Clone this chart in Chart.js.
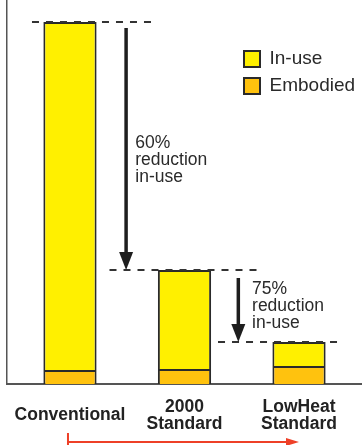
<!DOCTYPE html>
<html><head><meta charset="utf-8">
<script src="https://cdn.jsdelivr.net/npm/chart.js@4"></script>
<style>html,body{margin:0;padding:0;background:#fff}#wrap{width:362px;height:445px;position:relative}</style>
</head><body><div id="wrap"><canvas id="c"></canvas></div>
<script>
// ---- data ----
const categories = [['Conventional'], ['2000', 'Standard'], ['LowHeat', 'Standard']];
const seriesNames = ['Embodied', 'In-use'];
const embodied = [14, 15, 18];
const inUse = [348, 99, 24];
const reductionLabels = [['60%', 'reduction', 'in-use'], ['75%', 'reduction', 'in-use']];
const yMax = 384;

const colorInUse = '#FFF000';
const colorEmbodied = '#FFC20E';
const edge = '#2a2a2a';
const textFont = '"Liberation Sans", Arial, Helvetica, sans-serif';

const annotations = {
  id: 'annotations',
  afterDatasetsDraw(chart) {
    const {ctx, scales: {x, y}} = chart;
    const tops = inUse.map((v, i) => y.getPixelForValue(v + embodied[i]));
    const cx = categories.map((c, i) => x.getPixelForValue(i));
    ctx.save();
    // dashed reference lines
    ctx.strokeStyle = '#333';
    ctx.lineWidth = 2;
    ctx.setLineDash([7, 7]);
    const spans = [[-38, 82], [-75, 72], [-81, 38]];
    spans.forEach((s, i) => {
      ctx.beginPath();
      ctx.moveTo(cx[i] + s[0], tops[i]);
      ctx.lineTo(cx[i] + s[1], tops[i]);
      ctx.stroke();
    });
    ctx.setLineDash([]);
    // down arrows
    const arrows = [{xv: 0.49, from: 28, to: tops[1]}, {xv: 1.47, from: 278, to: tops[2]}];
    ctx.fillStyle = '#1e1e1e';
    ctx.strokeStyle = '#1e1e1e';
    arrows.forEach(a => {
      const ax = x.getPixelForValue(a.xv);
      ctx.lineWidth = 3.5;
      ctx.beginPath();
      ctx.moveTo(ax, a.from);
      ctx.lineTo(ax, a.to - 16);
      ctx.stroke();
      ctx.beginPath();
      ctx.moveTo(ax - 7, a.to - 18);
      ctx.lineTo(ax + 7, a.to - 18);
      ctx.lineTo(ax, a.to);
      ctx.closePath();
      ctx.fill();
    });
    // reduction text
    ctx.fillStyle = '#2a2a2a';
    ctx.font = '17.5px ' + textFont;
    ctx.textBaseline = 'middle';
    ctx.textAlign = 'left';
    const textPos = [{x: x.getPixelForValue(0.57), y: 143}, {x: x.getPixelForValue(1.59), y: 289}];
    reductionLabels.forEach((lines, i) => {
      lines.forEach((t, j) => ctx.fillText(t, textPos[i].x, textPos[i].y + j * 17));
    });
    ctx.restore();
  },
  afterDraw(chart) {
    // red progression arrow under the axis labels
    const {ctx, scales: {x}} = chart;
    const x0 = x.getPixelForValue(0) - 2;
    const x1 = x.getPixelForValue(2);
    const yy = 442;
    ctx.save();
    ctx.strokeStyle = '#EE4027';
    ctx.fillStyle = '#EE4027';
    ctx.lineWidth = 2;
    ctx.beginPath();
    ctx.moveTo(x0, 433);
    ctx.lineTo(x0, 445);
    ctx.moveTo(x0, yy);
    ctx.lineTo(x1 - 12, yy);
    ctx.stroke();
    ctx.beginPath();
    ctx.moveTo(x1 - 13, yy - 4);
    ctx.lineTo(x1, yy);
    ctx.lineTo(x1 - 13, yy + 4);
    ctx.closePath();
    ctx.fill();
    ctx.restore();
  }
};

const placeLegend = {
  id: 'placeLegend',
  afterLayout(chart) {
    const lg = chart.legend;
    if (!lg) return;
    const w = lg.width, h = lg.height;
    lg.left = 236; lg.top = 41.5;
    lg.right = lg.left + w; lg.bottom = lg.top + h;
  }
};

new Chart(document.getElementById('c'), {
  type: 'bar',
  data: {
    datasets: [
      {label: seriesNames[0], data: embodied.map((v, i) => ({x: i, y: v})),
       backgroundColor: colorEmbodied, borderColor: edge, borderWidth: 2},
      {label: seriesNames[1], data: inUse.map((v, i) => ({x: i, y: v})),
       backgroundColor: colorInUse, borderColor: edge, borderWidth: 2}
    ]
  },
  options: {
    responsive: true,
    maintainAspectRatio: false,
    animation: false,
    categoryPercentage: 1,
    barPercentage: 0.465,
    layout: {autoPadding: false, padding: {left: 7, right: 0, top: 0, bottom: -19}},
    scales: {
      x: {
        type: 'linear', stacked: true, min: -0.55, max: 2.55, offset: false,
        afterBuildTicks: (s) => { s.ticks = categories.map((c, i) => ({value: i})); },
        afterFit: (s) => { s.paddingLeft = 0; s.paddingRight = 0; },
        grid: {display: false, drawTicks: false, offset: false},
        border: {display: true, color: '#555', width: 2},
        ticks: {
          callback: (v) => categories[v] || '',
          color: '#222', padding: 23, crossAlign: 'center', maxRotation: 0, autoSkip: false,
          font: {family: textFont, weight: 'bold', size: 17.5, lineHeight: 17 / 17.5}
        }
      },
      y: {
        stacked: true, min: 0, max: yMax,
        afterFit: (s) => { s.width = 0; },
        grid: {display: false, drawTicks: false},
        border: {display: true, color: '#555', width: 1.5},
        ticks: {display: false}
      }
    },
    plugins: {
      tooltip: {enabled: false},
      legend: {
        position: 'chartArea', align: 'start', reverse: true,
        labels: {
          boxWidth: 16, boxHeight: 16, padding: 8, color: '#2a2a2a',
          font: {family: textFont, size: 19}
        }
      }
    }
  },
  plugins: [annotations, placeLegend]
});
</script>
</body></html>
